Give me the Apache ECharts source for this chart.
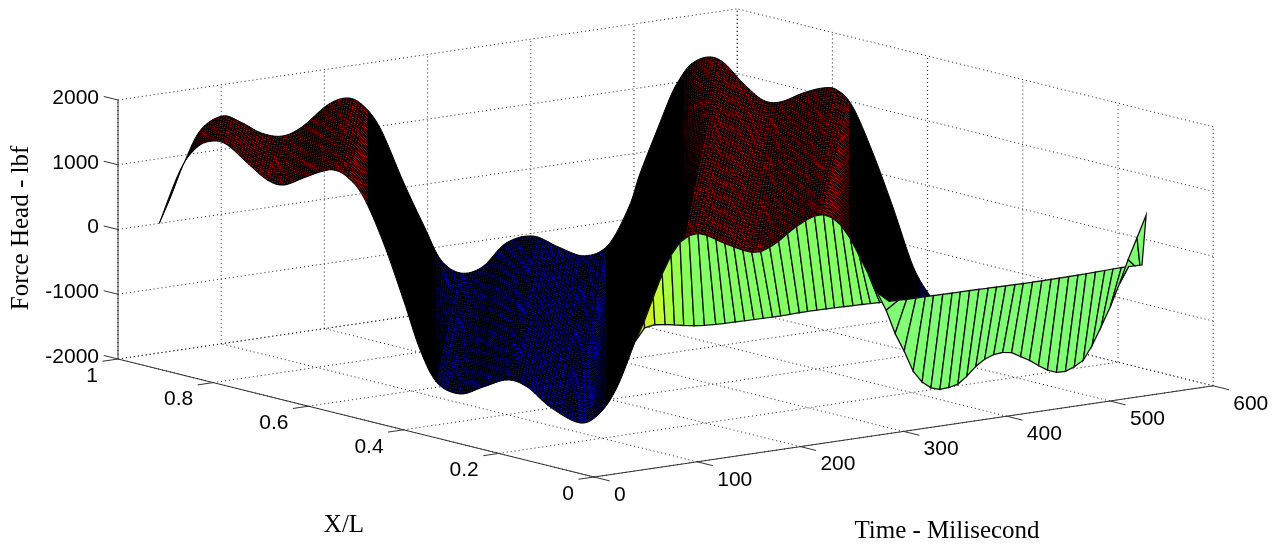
<!DOCTYPE html>
<html>
<head>
<meta charset="utf-8">
<style>html,body{margin:0;padding:0;background:#fff}#c{width:1279px;height:545px}</style>
<script src="https://cdn.jsdelivr.net/npm/echarts@6/dist/echarts.min.js"></script>
</head>
<body>
<div id="c"></div>
<script>
const timeTicks = [0, 100, 200, 300, 400, 500, 600];
const xTicks = [0, 0.2, 0.4, 0.6, 0.8, 1];
const forceTicks = [-2000, -1000, 0, 1000, 2000];
const timeTitle = 'Time - Milisecond';
const xTitle = 'X/L';
const forceTitle = 'Force Head - lbf';

// x/L = 1 edge of the surface
const x1EdgeTime = [40, 51, 64, 80, 101, 119, 139, 159, 178, 203, 222, 237, 254, 277, 297, 313, 332, 353, 376, 402, 427, 452, 475, 495, 506, 525, 535];
const x1EdgeForce = [0, 381, 877, 1349, 1516, 1380, 1164, 1070, 1164, 1447, 1510, 1365, 971, 68, -658, -1206, -1451, -1407, -1092, -1044, -1274, -1468, -1354, -815, -315, 412, 787];
// t = 535 ms edge
const endEdgeX = [0.985, 0.958, 0.922, 0.889, 0.847, 0.805, 0.769, 0.721, 0.679, 0.649, 0.616, 0.574, 0.532, 0.489, 0.454];
const endEdgeForce = [1034, 1362, 1550, 1533, 1286, 1099, 1135, 1360, 1515, 1538, 1336, 703, -56, -903, -1288];
// t = 40 ms edge
const startEdgeX = [1, 0.956, 0.92, 0.887, 0.857, 0.815, 0.773, 0.739, 0.697, 0.662, 0.634, 0.605, 0.571, 0.529, 0.487, 0.452, 0.416, 0.368, 0.319, 0.269, 0.227, 0.179, 0.116, 0.074, 0.038, 0];
const startEdgeForce = [0, 905, 1325, 1478, 1471, 1269, 1084, 1068, 1254, 1410, 1492, 1436, 1189, 556, -247, -956, -1400, -1482, -1285, -1085, -1118, -1339, -1471, -1240, -774, 0];
// x/L = 0 row: 58 time samples
const sampleTime = [40, 48.7, 57.4, 66.1, 74.7, 83.4, 92.1, 100.8, 109.5, 118.2, 126.8, 135.5, 144.2, 152.9, 161.6, 170.3, 178.9, 187.6, 196.3, 205, 213.7, 222.4, 231, 239.7, 248.4, 257.1, 265.8, 274.5, 283.1, 291.8, 300.5, 309.2, 317.9, 326.5, 335.2, 343.9, 352.6, 361.3, 370, 378.6, 387.3, 396, 404.7, 413.4, 422, 430.7, 439.4, 448.1, 456.8, 465.4, 474.1, 482.8, 491.5, 500.2, 508.9, 517.5, 526.2, 535];
const sampleForce = [0, 290, 640, 980, 1250, 1430, 1510, 1525, 1475, 1390, 1310, 1235, 1165, 1110, 1100, 1150, 1220, 1320, 1410, 1480, 1530, 1530, 1460, 1320, 1100, 810, 510, 200, -90, -470, -760, -1090, -1280, -1390, -1435, -1425, -1395, -1290, -1160, -1070, -1020, -1005, -1030, -1110, -1190, -1290, -1380, -1435, -1440, -1390, -1310, -1100, -830, -550, -220, 140, 460, 787];
// neighbouring flat row
const flatRowTime = [40, 49, 59, 69, 78, 87, 97, 107, 118, 127, 137, 146, 155, 164, 173, 181, 190, 199, 207, 216, 225, 233, 242, 251, 260, 268, 277, 286, 295, 303, 312, 321, 329, 338, 347, 355, 364, 373, 382, 390, 399, 408, 416, 425, 434, 443, 451, 460, 469, 477, 486, 495, 503, 511, 518, 524, 529, 531];
const flatRowForce = [0, 187, 213, 193, 167, 136, 108, 90, 80, 75, 72, 70, 68, 66, 64, 64, 66, 70, 72, 70, 68, 66, 62, 58, 54, 50, 46, 42, 38, 34, 32, 31, 30, 28, 26, 25, 24, 22, 20, 18, 16, 14, 12, 11, 11, 12, 14, 16, 18, 20, 24, 28, 32, 35, 35, 32, 30, 28];

// view projection of the 3-D box onto the page plane
function project(t, x, z) {
  return [594 - 476 * x + 1.032 * t, 347.5 - 118 * x - 0.152 * t - 0.06475 * z];
}

function catmull(P, n) {
  const out = [];
  for (let i = 0; i < P.length - 1; i++) {
    const p0 = P[Math.max(i - 1, 0)], p1 = P[i], p2 = P[i + 1], p3 = P[Math.min(i + 2, P.length - 1)];
    for (let k = 0; k < n; k++) {
      const s = k / n, s2 = s * s, s3 = s2 * s;
      out.push([0, 1].map(d => 0.5 * (2 * p1[d] + (p2[d] - p0[d]) * s + (2 * p0[d] - 5 * p1[d] + 4 * p2[d] - p3[d]) * s2 + (3 * p1[d] - p0[d] - 3 * p2[d] + p3[d]) * s3)));
    }
  }
  out.push(P[P.length - 1]);
  return out;
}
function lookup(D) {
  return function (px) {
    if (px <= D[0][0]) return D[0][1];
    let lo = 0, hi = D.length - 1;
    if (px >= D[hi][0]) return D[hi][1];
    while (hi - lo > 1) { const m = (lo + hi) >> 1; if (D[m][0] <= px) lo = m; else hi = m; }
    const f = (px - D[lo][0]) / Math.max(D[hi][0] - D[lo][0], 1e-6);
    return D[lo][1] + f * (D[hi][1] - D[lo][1]);
  };
}

const gridStyle = { stroke: '#222', lineWidth: 1, lineDash: [1, 3], fill: null };
const axisStyle = { stroke: '#333', lineWidth: 1, fill: null };

function seg(api, a, b, style) {
  const p = api.coord(project(a[0], a[1], a[2]));
  const q = api.coord(project(b[0], b[1], b[2]));
  return { type: 'line', shape: { x1: p[0], y1: p[1], x2: q[0], y2: q[1] }, style: style };
}
function label(api, a, dx, dy, text, align) {
  const p = api.coord(project(a[0], a[1], a[2]));
  return { type: 'text', x: p[0] + dx, y: p[1] + dy, style: { text: String(text), align: align, verticalAlign: 'middle', fill: '#000', font: '21px "Liberation Sans"' } };
}

function renderGrid(params, api) {
  const c = [];
  const tMin = timeTicks[0], tMax = timeTicks[timeTicks.length - 1];
  const zMin = forceTicks[0], zMax = forceTicks[forceTicks.length - 1];
  timeTicks.forEach(t => {
    c.push(seg(api, [t, 0, zMin], [t, 1, zMin], gridStyle));
    c.push(seg(api, [t, 1, zMin], [t, 1, zMax], gridStyle));
  });
  xTicks.forEach(x => {
    c.push(seg(api, [tMin, x, zMin], [tMax, x, zMin], gridStyle));
    c.push(seg(api, [tMax, x, zMin], [tMax, x, zMax], gridStyle));
  });
  forceTicks.forEach(z => {
    c.push(seg(api, [tMin, 1, z], [tMax, 1, z], gridStyle));
    c.push(seg(api, [tMax, 0, z], [tMax, 1, z], gridStyle));
  });
  return { type: 'group', children: c };
}

function renderAxes(params, api) {
  const c = [];
  const tMin = timeTicks[0], tMax = timeTicks[timeTicks.length - 1];
  const zMin = forceTicks[0], zMax = forceTicks[forceTicks.length - 1];
  c.push(seg(api, [tMin, 1, zMin], [tMin, 1, zMax], axisStyle));
  c.push(seg(api, [tMin, 0, zMin], [tMin, 1, zMin], axisStyle));
  c.push(seg(api, [tMin, 0, zMin], [tMax, 0, zMin], axisStyle));
  forceTicks.forEach(z => {
    c.push(seg(api, [tMin, 1, z], [tMin, 1.03, z], axisStyle));
    c.push(label(api, [tMin, 1, z], -19, -2, z, 'right'));
  });
  xTicks.forEach(x => {
    c.push(seg(api, [tMin, x, zMin], [tMin - 15, x, zMin], axisStyle));
    c.push(label(api, [tMin, x, zMin], -20, 17, x, 'right'));
  });
  timeTicks.forEach(t => {
    c.push(seg(api, [t, 0, zMin], [t, -0.033, zMin], axisStyle));
    c.push(label(api, [t, 0, zMin], 20, 18, t, 'left'));
  });
  const serif = '25px "Liberation Serif"';
  c.push({ type: 'text', x: 21, y: 228, rotation: Math.PI / 2, style: { text: forceTitle, align: 'center', verticalAlign: 'middle', fill: '#000', font: serif } });
  c.push({ type: 'text', x: 344, y: 525, style: { text: xTitle, align: 'center', verticalAlign: 'middle', fill: '#000', font: serif } });
  c.push({ type: 'text', x: 947, y: 531, style: { text: timeTitle, align: 'center', verticalAlign: 'middle', fill: '#000', font: serif } });
  return { type: 'group', children: c };
}

function renderRibbon(params, api) {
  const P = (t, x, z) => api.coord(project(t, x, z));
  const topPts = x1EdgeTime.map((t, i) => P(t, 1, x1EdgeForce[i])).concat(endEdgeX.map((x, i) => P(535, x, endEdgeForce[i])));
  const botPts = startEdgeX.map((x, i) => P(40, x, startEdgeForce[i]));
  const crossing = sampleForce.findIndex((f, i) => i > 0 && sampleTime[i] > 280);
  const gPts = [];
  for (let i = 1; i < crossing; i++) gPts.push(P(sampleTime[i], 0, sampleForce[i]));
  const top = catmull(topPts, 8);
  const bot = catmull(botPts.concat(gPts), 8);
  flatRowTime.forEach((t, i) => { const q = P(t, 0, flatRowForce[i]); if (q[0] > bot[bot.length - 1][0] + 1 && q[0] < top[top.length - 1][0] + 12) bot.push(q); });
  const topY = lookup(top), botY = lookup(bot);
  const c = [];
  const lastPx = top[top.length - 1][0];
  c.push({ type: 'polygon', shape: { points: top.concat(bot.slice().reverse().filter(p => p[0] <= lastPx + 1)) }, style: { fill: '#000', stroke: '#000', lineWidth: 1 } });
  const windows = [[192, 368, '#c40000'], [436, 606, '#0000d4'], [684, 850, '#c40000'], [919, 930, '#0000d4']];
  const line = (pts) => { if (pts.length > 1) c.push({ type: 'polyline', shape: { points: pts }, style: { stroke: '#000', lineWidth: 1, fill: null } }); };
  windows.forEach(w => {
    const a = w[0], b = w[1], up = [], dn = [];
    for (let px = a; px <= b; px += 1.5) { up.push([px, topY(px) + 0.8]); dn.push([px, botY(px) - 0.8]); }
    c.push({ type: 'polygon', shape: { points: up.concat(dn.reverse()) }, style: { fill: w[2] } });
    const curve = (fy) => {
      let run = [];
      for (let px = a; px <= b; px += 1.5) {
        const y = fy(px), slope = Math.abs(fy(px + 1) - fy(px - 1)) / 2;
        if (y > topY(px) && y < botY(px) && slope < 3.5) run.push([px, y]);
        else { line(run); run = []; }
      }
      line(run);
    };
    for (let k = 1; k < 100; k++) curve(px => topY(px + 0.2 * k) + 2.1 * k);
    for (let j = 1; j < 60; j++) curve(px => botY(px - 0.35 * j) - 3.4 * j);
    // crest-wise mesh lines lean slightly with depth
    for (let px = a; px <= b; px += 2.6) {
      const h = botY(px) - topY(px), x2 = Math.max(a, px - 0.2 * h);
      line([[px, topY(px)], [x2, botY(x2)]]);
    }
  });
  return { type: 'group', children: c };
}

function greenAt(i) {
  const ramp = ['#e0e820', '#d0f028', '#c0ff30', '#aaff40', '#98ff50', '#8cff5c', '#84ff64'];
  return i >= 25 ? '#80ff74' : ramp[Math.min(i, ramp.length - 1)];
}
function renderGreen(params, api) {
  const c = [];
  const G = sampleTime.map((t, i) => api.coord(project(t, 0, sampleForce[i])));
  const L = flatRowTime.map((t, i) => api.coord(project(t, 0, flatRowForce[i])));
  for (let i = 0; i < G.length - 1; i++) {
    c.push({ type: 'polygon', shape: { points: [G[i], G[i + 1], L[i + 1], L[i]] }, style: { fill: greenAt(i), stroke: '#111', lineWidth: 1.3 } });
  }
  return { type: 'group', children: c };
}

const one = [[0, 0]];
const layer = (fn, z) => ({ type: 'custom', coordinateSystem: 'cartesian2d', renderItem: fn, data: one, silent: true, animation: false, clip: false, z: z });

const chart = echarts.init(document.getElementById('c'), null, { renderer: 'canvas' });
chart.setOption({
  backgroundColor: '#fff',
  animation: false,
  grid: { left: 0, right: 0, top: 0, bottom: 0 },
  xAxis: { type: 'value', min: 0, max: 1279, show: false },
  yAxis: { type: 'value', min: 0, max: 545, inverse: true, show: false },
  series: [layer(renderGrid, 1), layer(renderRibbon, 2), layer(renderGreen, 3), layer(renderAxes, 4)]
});
</script>
</body>
</html>
